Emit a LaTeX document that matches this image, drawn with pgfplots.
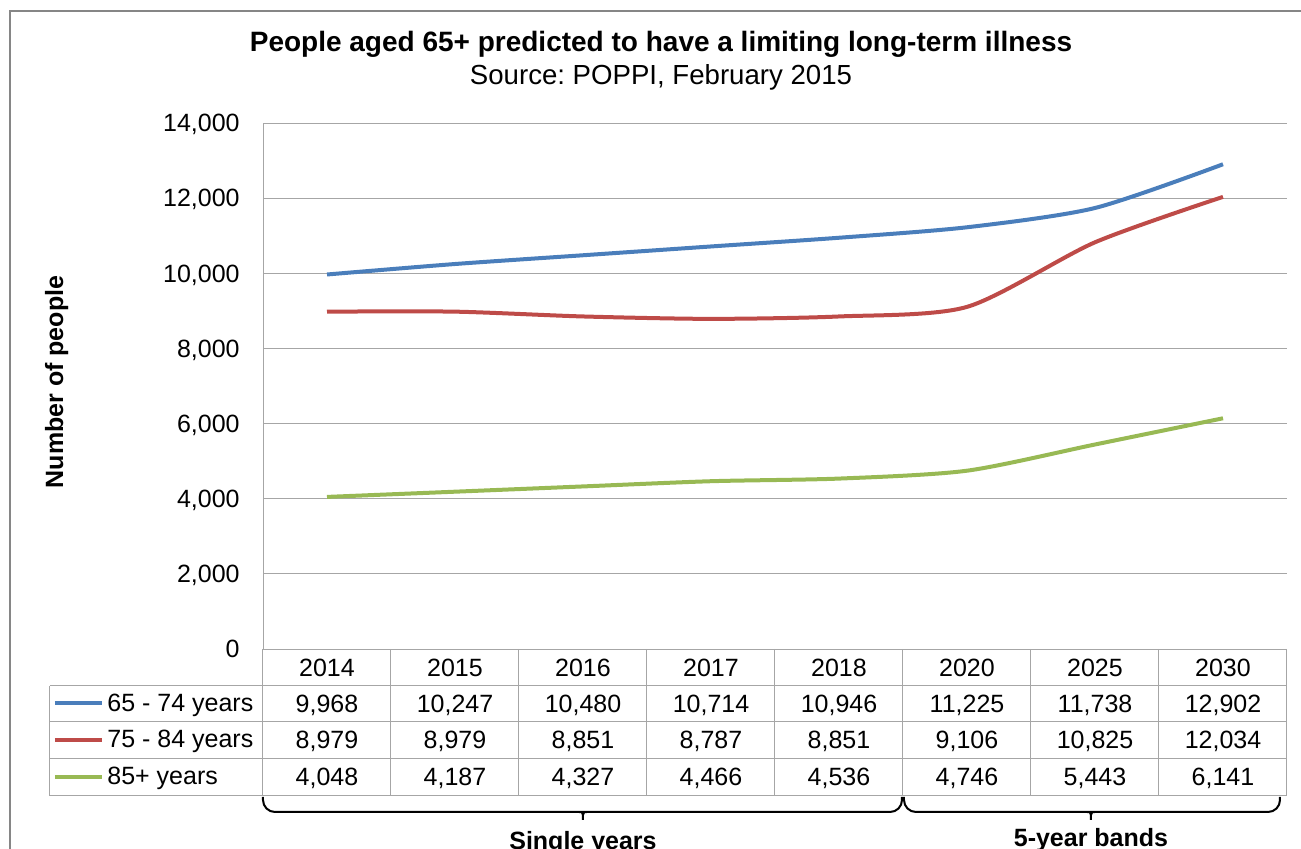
\documentclass[border=0pt]{standalone}
\usepackage{pgfplots}
\pgfplotsset{compat=1.18}
\usepackage{pgfplotstable}
\usepackage{fontspec}
\setmainfont{Liberation Sans}

\definecolor{sBlue}{HTML}{4A7EBB}
\definecolor{sRed}{HTML}{BE4B48}
\definecolor{sGreen}{HTML}{98B954}
\definecolor{gridGray}{HTML}{A6A6A6}
\definecolor{frameGray}{HTML}{868686}

% Projected number of people aged 65+ with a limiting long-term illness
\pgfplotstableread{
idx year young mid old
0 2014 9968 8979 4048
1 2015 10247 8979 4187
2 2016 10480 8851 4327
3 2017 10714 8787 4466
4 2018 10946 8851 4536
5 2020 11225 9106 4746
6 2025 11738 10825 5443
7 2030 12902 12034 6141
}\illness

\pgfplotsset{
  table row/.style={draw=none, mark=none, nodes near coords,
    nodes near coords align={anchor=base},
    point meta=explicit,
    every node near coord/.append style={inner sep=0pt, black}},
  series/.style={line width=2bp, smooth, tension=0.45},
}

\begin{document}
\frenchspacing
\fontsize{12.5bp}{15bp}\selectfont
\begin{tikzpicture}
% page frame, 1 unit = 0.5bp, y downwards
\path[use as bounding box] (0,0) rectangle (650.5bp,-424.5bp);
\clip (0,0) rectangle (650.5bp,-424.5bp);

\begin{scope}[x=0.5bp, y=-0.5bp]
  % chart area border
  \draw[frameGray, line width=0.75bp] (10,11) rectangle (1320,870);
  % titles
  \node[anchor=base, font=\fontsize{14bp}{16bp}\selectfont\bfseries, inner sep=0] at (661,51)
    {People aged 65+ predicted to have a limiting long-term illness};
  \node[anchor=base, font=\fontsize{13.8bp}{16bp}\selectfont, inner sep=0] at (661,85)
    {Source: POPPI, February 2015};
  % y axis title
  \node[anchor=base, rotate=90, font=\bfseries, inner sep=0] at (63,382) {Number of people};

  % data table grid
  \foreach \yy in {686,722,759,796} \draw[gridGray, line width=0.5bp] (50,\yy) -- (1287,\yy);
  \draw[gridGray, line width=0.5bp] (50,686) -- (50,796);
  \foreach \k in {0,...,8} \draw[gridGray, line width=0.5bp] (263+128*\k,649) -- (263+128*\k,796);

  % legend keys inside the table
  \draw[sBlue, line width=2bp] (55,703.5) -- (102,703.5);
  \draw[sRed, line width=2bp] (55,740) -- (102,740);
  \draw[sGreen, line width=2bp] (55,777) -- (102,777);
  \node[anchor=base west, inner sep=0] at (107,712) {65 - 74 years};
  \node[anchor=base west, inner sep=0] at (107,748) {75 - 84 years};
  \node[anchor=base west, inner sep=0] at (107,785) {85+ years};

  % grouping braces
  \draw[black, line width=1bp, rounded corners=6]
    (263,797) -- (263,812) -- (575,812)
    .. controls (580,812) and (583,815) .. (583,827)
    .. controls (583,815) and (586,812) .. (591,812)
    -- (902,812) -- (902,797);
  \draw[black, line width=1bp, rounded corners=6]
    (904,797) -- (904,812) -- (1083,812)
    .. controls (1088,812) and (1091,815) .. (1091,827)
    .. controls (1091,815) and (1094,812) .. (1099,812)
    -- (1280,812) -- (1280,797);
  \node[anchor=base, font=\bfseries, inner sep=0] at (583,850) {Single years};
  \node[anchor=base, font=\bfseries, inner sep=0] at (1091,847) {5-year bands};
\end{scope}

\begin{axis}[
  at={(131.5bp,-324.5bp)}, anchor=south west,
  scale only axis, width=512bp, height=263bp,
  xmin=-0.5, xmax=7.5, ymin=0, ymax=14000,
  axis lines*=left,
  axis line style={gridGray, line width=0.5bp},
  clip=false,
  major tick length=0pt,
  ytick={0,2000,...,14000},
  scaled y ticks=false,
  ymajorgrids,
  grid style={gridGray, line width=0.5bp},
  xtick={0,...,7},
  xticklabels from table={\illness}{year},
  xticklabel style={anchor=base, yshift=-13.5bp, inner sep=0pt},
  yticklabel style={anchor=east, inner sep=0pt, xshift=-11.5bp, text depth=0pt,
    /pgf/number format/fixed},
  /pgf/number format/.cd, 1000 sep={,}, assume math mode=true,
]
\addplot[sBlue, series] table[x=idx, y=young] {\illness};
\addplot[sRed, series] table[x=idx, y=mid] {\illness};
\addplot[sGreen, series] table[x=idx, y=old] {\illness};

% values written in the table rows below the axis
\addplot[table row] table[x=idx, y expr=-1677, meta=young] {\illness};
\addplot[table row] table[x=idx, y expr=-2635, meta=mid] {\illness};
\addplot[table row] table[x=idx, y expr=-3620, meta=old] {\illness};
\end{axis}
\end{tikzpicture}
\end{document}
